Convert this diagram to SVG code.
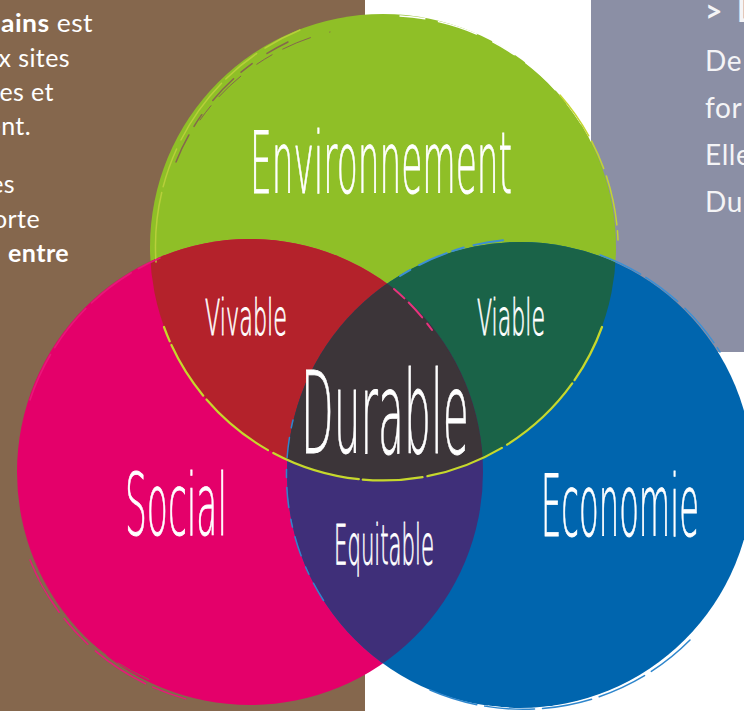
<svg xmlns="http://www.w3.org/2000/svg" width="744" height="711" viewBox="0 0 744 711">
<style>
.lbl{font-family:"DejaVu Sans","Liberation Sans",sans-serif;font-weight:200;fill:#ffffff;stroke:#ffffff;stroke-width:0.9}
.side{font-family:Lato,"Open Sans","Liberation Sans",sans-serif;fill:#ffffff;font-size:25px;font-weight:400;letter-spacing:0.4px}
.grey{font-family:Lato,"Open Sans","Liberation Sans",sans-serif;fill:#f4f4f6;font-size:28px;font-weight:400;letter-spacing:0.6px}
.b{font-weight:700}
.br{fill:none;stroke-linecap:round}
</style>
<defs>
<clipPath id="cg"><circle cx="383" cy="247" r="233"/></clipPath>
<clipPath id="cp"><circle cx="250" cy="472" r="233"/></clipPath>
</defs>
<rect x="0" y="0" width="744" height="711" fill="#ffffff"/>
<rect x="591" y="0" width="153" height="352" fill="#8b8fa5"/>
<rect x="0" y="0" width="365" height="711" fill="#85674d"/>

<g id="circle-environnement"><circle cx="383" cy="247" r="233" fill="#8fbf27"/></g>
<g id="circle-social"><circle cx="250" cy="472" r="233" fill="#e4006a"/></g>
<g id="circle-economie"><circle cx="520" cy="475" r="233" fill="#0065ae"/></g>
<g id="zone-vivable"><circle cx="250" cy="472" r="233" fill="#b4222b" clip-path="url(#cg)"/></g>
<g id="zone-viable"><circle cx="520" cy="475" r="233" fill="#1a6348" clip-path="url(#cg)"/></g>
<g id="zone-equitable"><circle cx="520" cy="475" r="233" fill="#3f2f79" clip-path="url(#cp)"/></g>
<g id="zone-durable"><g clip-path="url(#cg)"><circle cx="520" cy="475" r="233" fill="#3c3539" clip-path="url(#cp)"/></g></g>

<g id="brush">
<path class="br" d="M 156 262 A 234 234 0 0 1 300 30" stroke="#b7cf3a" stroke-width="1.5" stroke-dasharray="70 6 40 10"/>
<path class="br" d="M 176 162 A 226 226 0 0 1 288 42" stroke="#85674d" stroke-width="1.5" stroke-dasharray="30 10 14 18"/>
<path class="br" d="M 200 120 A 222 222 0 0 1 330 32" stroke="#85674d" stroke-width="1" stroke-dasharray="18 12 30 20"/>
<path class="br" d="M 400 16 A 230 230 0 0 1 585 130" stroke="#ffffff" stroke-width="1.5" stroke-dasharray="25 14 40 18"/>
<path class="br" d="M 560 95 A 234 234 0 0 1 618 240" stroke="#c4d62f" stroke-width="1.5" stroke-dasharray="50 6 30 8"/>
<path class="br" d="M 602 327 A 233 233 0 0 1 164 327" stroke="#c6d82c" stroke-width="2.2" stroke-dasharray="60 4 90 6 80 5"/>
<path class="br" d="M 394 289 A 231 231 0 0 1 432 330" stroke="#e8337d" stroke-width="2" stroke-dasharray="14 6 20 8"/>
<path class="br" d="M 30 560 A 235 235 0 0 0 190 700" stroke="#e8187a" stroke-width="1.5" stroke-dasharray="60 8 35 10"/>
<path class="br" d="M 40 580 A 228 228 0 0 0 150 680" stroke="#85674d" stroke-width="1" stroke-dasharray="20 14 35 12"/>
<path class="br" d="M 30 400 A 234 234 0 0 1 160 258" stroke="#e8187a" stroke-width="1.5" stroke-dasharray="50 8"/>
<path class="br" d="M 400 276 A 236 236 0 0 1 505 240" stroke="#3d8fd4" stroke-width="2" stroke-dasharray="12 10 30 6"/>
<path class="br" d="M 293 420 A 232 232 0 0 0 330 610" stroke="#2f86cc" stroke-width="1.5" stroke-dasharray="8 10 20 12"/>
<path class="br" d="M 600 255 A 235 235 0 0 1 720 352" stroke="#3d8fd4" stroke-width="1.5" stroke-dasharray="45 6 40 10"/>
<path class="br" d="M 700 625 A 231 231 0 0 1 480 705" stroke="#ffffff" stroke-width="1.5" stroke-dasharray="20 16 35 12"/>
<path class="br" d="M 690 640 A 235 235 0 0 1 430 690" stroke="#2f86cc" stroke-width="1.5" stroke-dasharray="50 8"/>
</g>

<g id="node-environnement"><text class="lbl" x="250" y="193" font-size="86" textLength="262" lengthAdjust="spacingAndGlyphs">Environnement</text></g>
<g id="node-social"><text class="lbl" x="125" y="535" font-size="86" textLength="102" lengthAdjust="spacingAndGlyphs">Social</text></g>
<g id="node-economie"><text class="lbl" x="541" y="536" font-size="86" textLength="158" lengthAdjust="spacingAndGlyphs">Economie</text></g>
<g id="node-vivable"><text class="lbl" x="205" y="335" font-size="50" textLength="82" lengthAdjust="spacingAndGlyphs">Vivable</text></g>
<g id="node-viable"><text class="lbl" x="477" y="335" font-size="50" textLength="68" lengthAdjust="spacingAndGlyphs">Viable</text></g>
<g id="node-equitable"><text class="lbl" x="334" y="564" font-size="55" textLength="100" lengthAdjust="spacingAndGlyphs">Equitable</text></g>
<g id="node-durable"><text class="lbl" x="301" y="453" font-size="114" textLength="168" lengthAdjust="spacingAndGlyphs">Durable</text></g>

<g id="left-text" class="side">
<text x="1" y="32" textLength="92" lengthAdjust="spacingAndGlyphs"><tspan class="b">ains</tspan> est</text>
<g text-anchor="end">
<text x="70" y="67">x sites</text>
<text x="54" y="101">es et</text>
<text x="31" y="135">ent.</text>
<text x="15" y="193">es</text>
<text x="40" y="228">orte</text>
<text x="69" y="262" class="b">entre</text>
</g>
</g>

<g id="right-text" class="grey">
<text x="705" y="22" class="b" font-size="30">&gt;<tspan x="737">L</tspan></text>
<text x="705" y="71">De</text>
<text x="705" y="118">for</text>
<text x="705" y="165">Elle</text>
<text x="705" y="212">Du</text>
</g>
</svg>
